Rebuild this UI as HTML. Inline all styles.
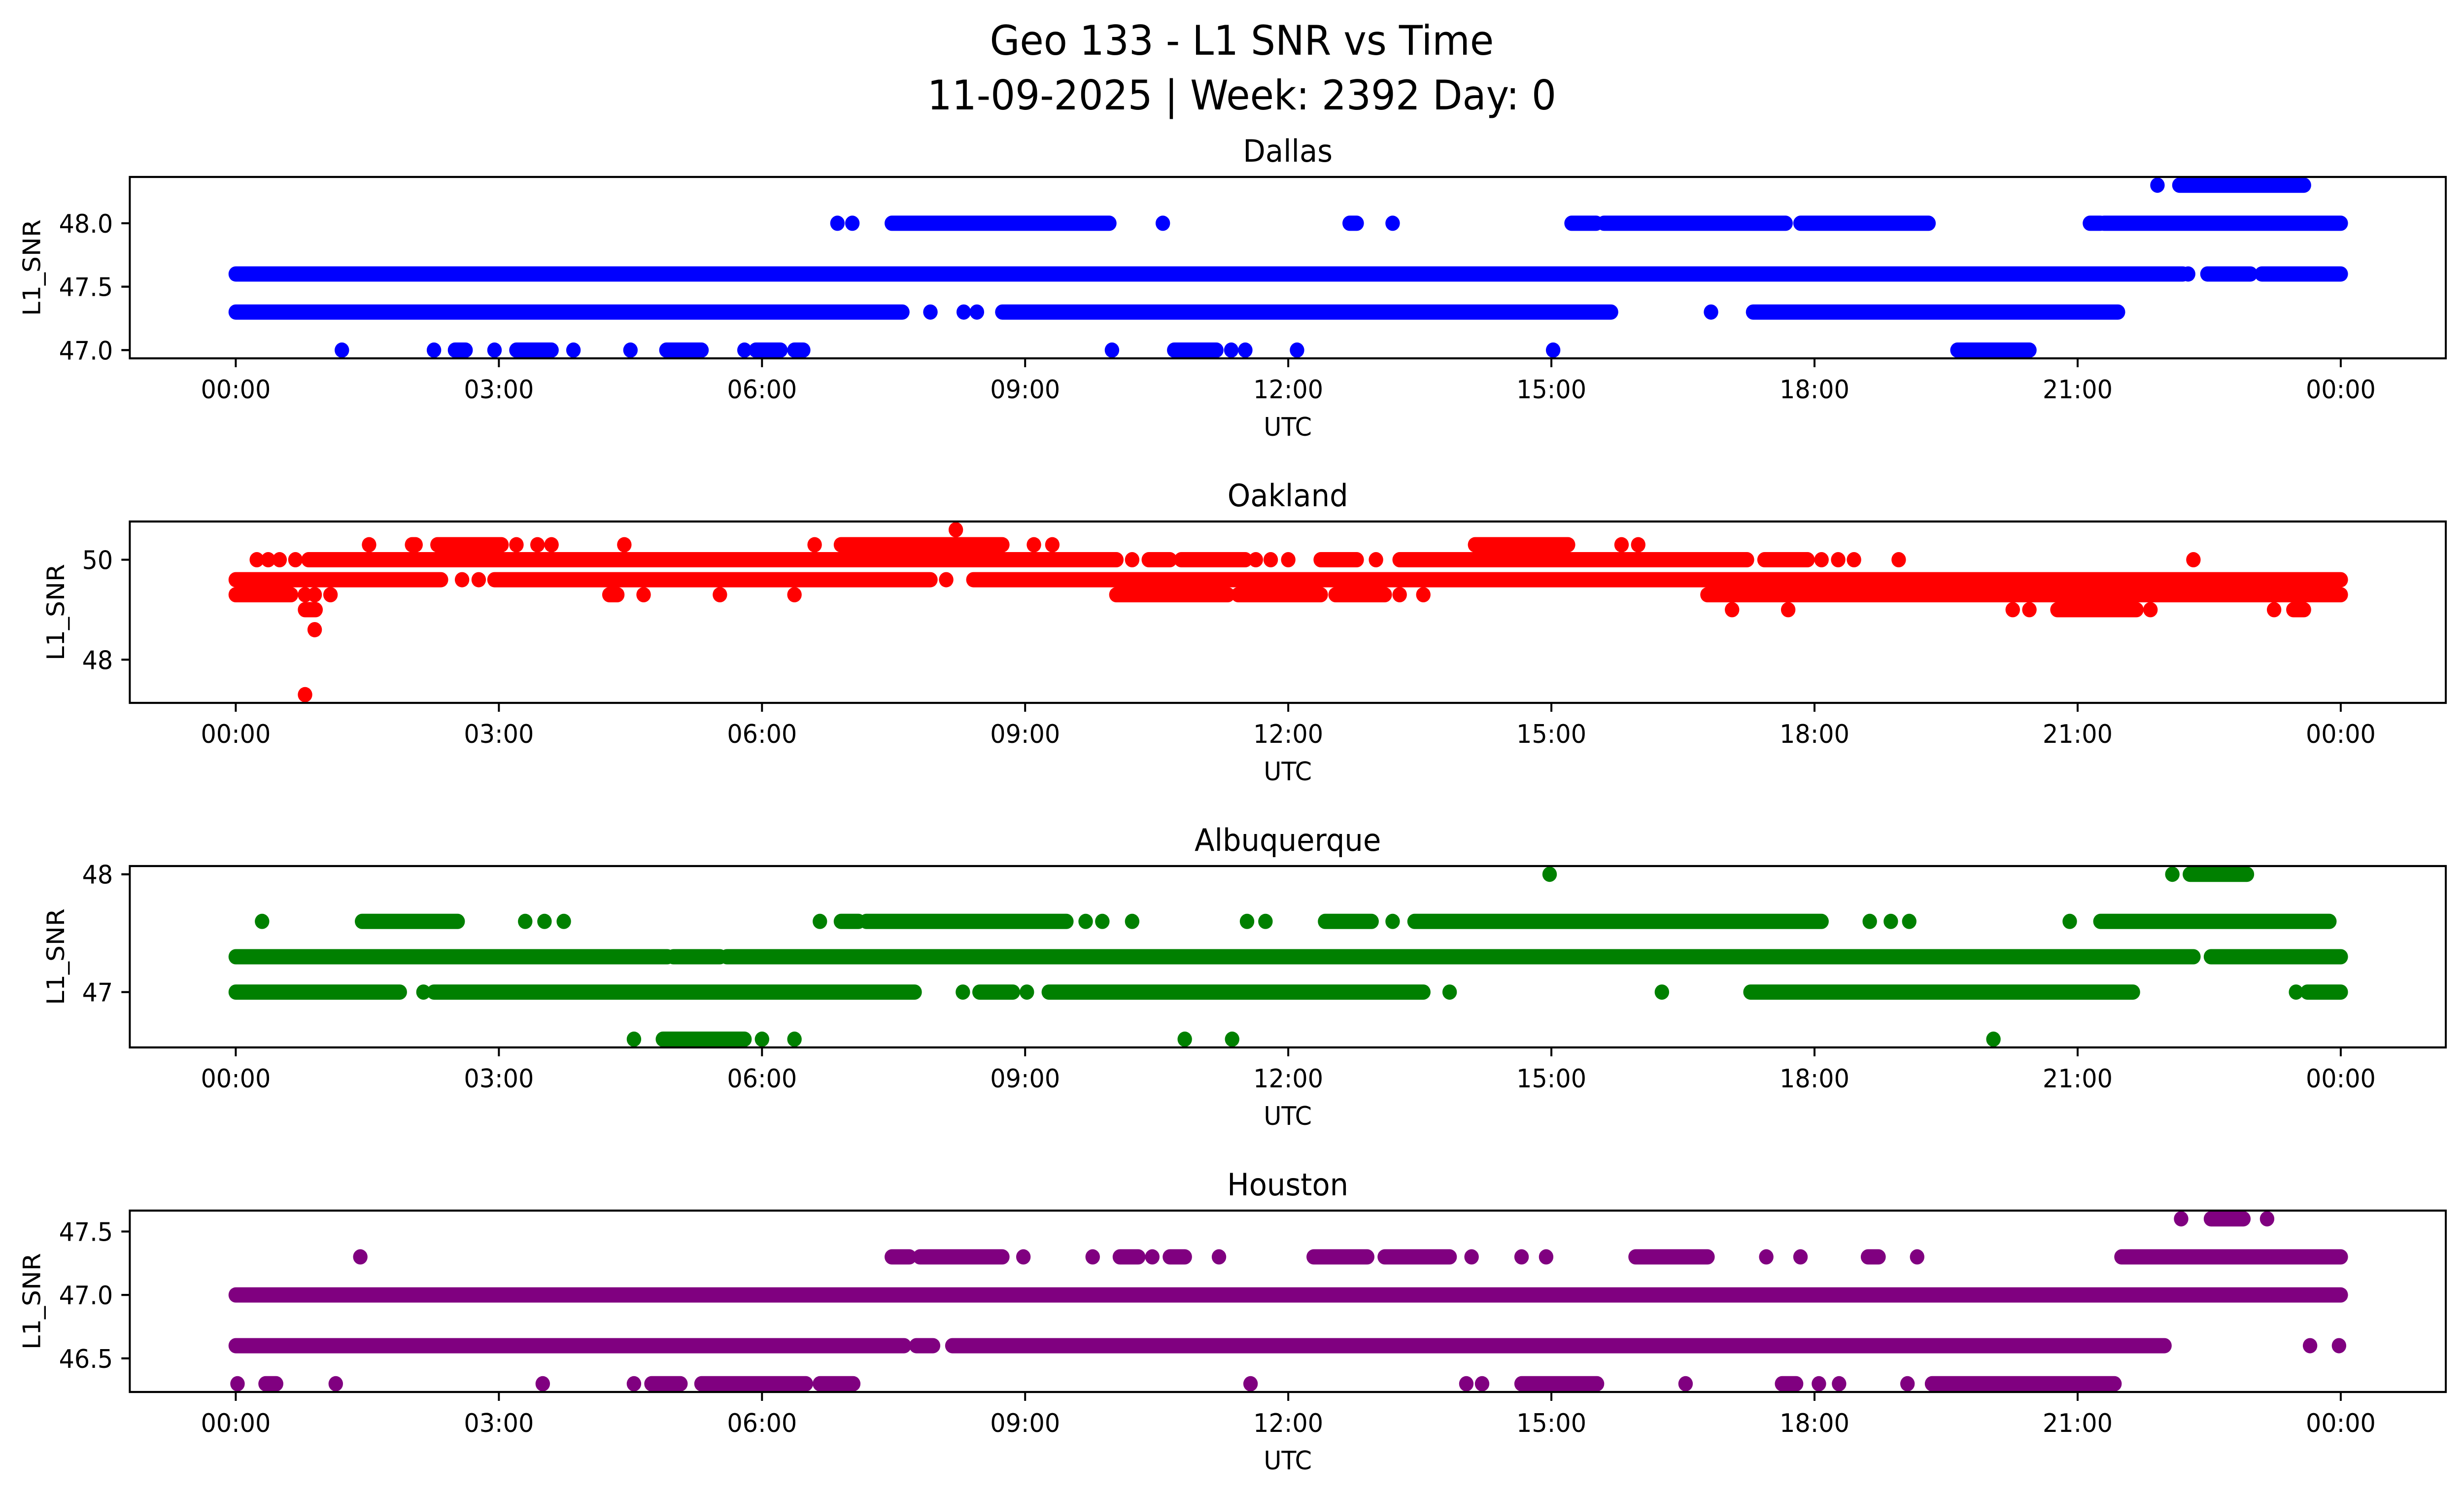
<!DOCTYPE html>
<html><head><meta charset="utf-8"><style>
html,body{margin:0;padding:0;background:#fff;width:100%;height:100%;overflow:hidden}
svg{display:block;width:100vw;height:100vh}
text{font-family:"DejaVu Sans","Liberation Sans",sans-serif;fill:#000}
</style></head><body>
<svg id="fig" viewBox="0 0 5278 3033" preserveAspectRatio="none" xmlns="http://www.w3.org/2000/svg">
<rect width="5278" height="3033" fill="#fff"/>
<text x="2660" y="111" font-size="83" text-anchor="middle">Geo 133 - L1 SNR vs Time</text>
<text x="2660" y="222" font-size="83" text-anchor="middle">11-09-2025 | Week: 2392 Day: 0</text>
</svg>
<script>
// x tick labels (hours)
const xTickHours = [0,3,6,9,12,15,18,21,24];
const xTickLabels = ["00:00","03:00","06:00","09:00","12:00","15:00","18:00","21:00","00:00"];

// Station names
const stations = ["Dallas","Oakland","Albuquerque","Houston"];
const colors = ["#0000ff","#ff0000","#008000","#800080"];

// y tick values per station
const dallasTicks = [47.0,47.5,48.0];
const oaklandTicks = [48,50];
const albuqTicks = [47,48];
const houstonTicks = [46.5,47.0,47.5];

// Data: per SNR level, list of [startHour, endHour] runs of observations
const dallasLevels = [47.0,47.3,47.6,48.0,48.3];
const dallasRuns = [
 [[1.21,1.21],[2.26,2.26],[2.5,2.62],[2.95,2.95],[3.2,3.6],[3.85,3.85],[4.5,4.5],[4.91,5.31],[5.8,5.8],[5.93,6.21],[6.37,6.47],[9.99,9.99],[10.7,11.18],[11.35,11.35],[11.51,11.51],[12.1,12.1],[15.02,15.02],[19.63,20.45]],
 [[0,7.6],[7.92,7.92],[8.3,8.3],[8.45,8.45],[8.74,15.68],[16.82,16.82],[17.3,21.46]],
 [[0,22.2],[22.26,22.26],[22.48,22.97],[23.1,24]],
 [[6.86,6.86],[7.03,7.03],[7.48,9.96],[10.57,10.57],[12.7,12.78],[13.19,13.19],[15.23,15.51],[15.6,17.67],[17.84,19.3],[21.14,21.26],[21.3,24]],
 [[21.91,21.91],[22.16,23.58]]
];

const oaklandLevels = [47.3,48.6,49.0,49.3,49.6,50.0,50.3,50.6];
const oaklandRuns = [
 [[0.79,0.79]],
 [[0.9,0.9]],
 [[0.79,0.91],[17.06,17.06],[17.7,17.7],[20.26,20.26],[20.45,20.45],[20.77,21.67],[21.83,21.83],[23.24,23.24],[23.46,23.58]],
 [[0,0.63],[0.79,0.79],[0.9,0.9],[1.08,1.08],[4.26,4.35],[4.65,4.65],[5.52,5.52],[6.37,6.37],[10.04,11.31],[11.43,12.37],[12.54,13.1],[13.27,13.27],[13.54,13.54],[16.78,24]],
 [[0,2.34],[2.58,2.58],[2.77,2.77],[2.95,7.92],[8.1,8.1],[8.41,24]],
 [[0.24,0.24],[0.37,0.37],[0.5,0.5],[0.68,0.68],[0.83,10.04],[10.22,10.22],[10.41,10.65],[10.78,11.51],[11.63,11.63],[11.8,11.8],[12.0,12.0],[12.37,12.78],[13.0,13.0],[13.27,17.23],[17.43,17.92],[18.08,18.08],[18.27,18.27],[18.45,18.45],[18.96,18.96],[22.32,22.32]],
 [[1.52,1.52],[2.01,2.05],[2.3,3.03],[3.2,3.2],[3.44,3.44],[3.6,3.6],[4.43,4.43],[6.6,6.6],[6.9,8.74],[9.1,9.1],[9.31,9.31],[14.13,15.19],[15.8,15.8],[15.99,15.99]],
 [[8.21,8.21]]
];

const albuqLevels = [46.6,47.0,47.3,47.6,48.0];
const albuqRuns = [
 [[4.54,4.54],[4.87,5.8],[6.0,6.0],[6.37,6.37],[10.82,10.82],[11.36,11.36],[20.04,20.04]],
 [[0,1.87],[2.14,2.14],[2.26,7.74],[8.29,8.29],[8.48,8.86],[9.02,9.02],[9.27,13.54],[13.84,13.84],[16.26,16.26],[17.27,21.63],[23.49,23.49],[23.62,24]],
 [[0,4.92],[4.99,5.52],[5.6,22.32],[22.52,24]],
 [[0.3,0.3],[1.44,2.53],[3.3,3.3],[3.52,3.52],[3.74,3.74],[6.66,6.66],[6.9,7.1],[7.19,9.47],[9.69,9.69],[9.88,9.88],[10.22,10.22],[11.53,11.53],[11.74,11.74],[12.42,12.95],[13.19,13.19],[13.44,18.08],[18.63,18.63],[18.87,18.87],[19.08,19.08],[20.91,20.91],[21.26,23.87]],
 [[14.98,14.98],[22.08,22.08],[22.28,22.93]]
];

const houstonLevels = [46.3,46.6,47.0,47.3,47.6];
const houstonRuns = [
 [[0.02,0.02],[0.34,0.46],[1.14,1.14],[3.5,3.5],[4.54,4.54],[4.74,5.07],[5.31,6.5],[6.66,7.04],[11.57,11.57],[14.03,14.03],[14.21,14.21],[14.66,15.52],[16.53,16.53],[17.63,17.79],[18.05,18.05],[18.28,18.28],[19.06,19.06],[19.34,21.42]],
 [[0,7.62],[7.76,7.95],[8.17,21.99],[23.65,23.65],[23.98,23.98]],
 [[0,24]],
 [[1.42,1.42],[7.48,7.68],[7.8,8.74],[8.98,8.98],[9.77,9.77],[10.08,10.29],[10.45,10.45],[10.65,10.82],[11.21,11.21],[12.29,12.9],[13.1,13.84],[14.09,14.09],[14.66,14.66],[14.94,14.94],[15.96,16.78],[17.45,17.45],[17.84,17.84],[18.61,18.73],[19.17,19.17],[21.5,24]],
 [[22.18,22.18],[22.52,22.89],[23.16,23.16]]
];

const levelsAll = [dallasLevels,oaklandLevels,albuqLevels,houstonLevels];
const runsAll = [dallasRuns,oaklandRuns,albuqRuns,houstonRuns];
const ticksAll = [dallasTicks,oaklandTicks,albuqTicks,houstonTicks];
const tickFmt = [1,0,0,1];

const NS = "http://www.w3.org/2000/svg";
const svg = document.getElementById('fig');
const AX_L = 278, AX_R = 5239, AX_H = 368;
const tops = [359,1058,1757,2456];
const ylabelX = [67,118,118,67];
function xScale(h){ return 505 + h*(5014-505)/24; }
function mk(tag, attrs){ const e=document.createElementNS(NS,tag); for(const k in attrs) e.setAttribute(k,attrs[k]); return e; }

for(let p=0;p<4;p++){
  const top=tops[p], bot=top+AX_H;
  const lv=levelsAll[p];
  const mn=Math.min(...lv), mx=Math.max(...lv), pad=(mx-mn)*0.05;
  const y0=mn-pad, y1=mx+pad;
  const yScale = v => bot - (v-y0)/(y1-y0)*AX_H;
  const g=mk('g',{});
  
  
  svg.appendChild(g);
  const t=mk('text',{x:(AX_L+AX_R)/2,y:top-31,'font-size':62.5,'text-anchor':'middle'});
  t.textContent=stations[p];
  
  
  g.appendChild(t);
  const dg=mk('g',{stroke:colors[p],'stroke-width':31,'stroke-linecap':'round',fill:'none'});
  
  
  g.appendChild(dg);
  runsAll[p].forEach((runs,i)=>{
    const y=yScale(lv[i]);
    runs.forEach(r=>{
      const ln=mk('line',{x1:xScale(r[0]),x2:xScale(r[1])+0.01,y1:y,y2:y});
      
      
      dg.appendChild(ln);
    });
  });
  const fr=mk('rect',{x:AX_L,y:top,width:AX_R-AX_L,height:AX_H,fill:'none',stroke:'#000','stroke-width':4.2});
  
  
  g.appendChild(fr);
  xTickHours.forEach((h,i)=>{
    const x=xScale(h);
    const tk=mk('line',{x1:x,x2:x,y1:bot,y2:bot+18,stroke:'#000','stroke-width':4.2});
    
    
    g.appendChild(tk);
    const tl=mk('text',{x:x,y:bot+81,'font-size':52,'text-anchor':'middle'});
    tl.textContent=xTickLabels[i];
    
    
    g.appendChild(tl);
  });
  const xl=mk('text',{x:(AX_L+AX_R)/2,y:bot+157,'font-size':52,'text-anchor':'middle'});
  xl.textContent='UTC';
  
  
  g.appendChild(xl);
  ticksAll[p].forEach(v=>{
    const y=yScale(v);
    const tk=mk('line',{x1:AX_L-18,x2:AX_L,y1:y,y2:y,stroke:'#000','stroke-width':4.2});
    
    
    g.appendChild(tk);
    const tl=mk('text',{x:AX_L-36,y:y+19,'font-size':52,'text-anchor':'end'});
    tl.textContent=v.toFixed(tickFmt[p]);
    
    
    g.appendChild(tl);
  });
  const yl=mk('text',{x:0,y:0,'font-size':52,'text-anchor':'middle',transform:`translate(${ylabelX[p]+19},${(top+bot)/2}) rotate(-90)`});
  yl.textContent='L1_SNR';
  
  
  g.appendChild(yl);
}
</script>
</body></html>
